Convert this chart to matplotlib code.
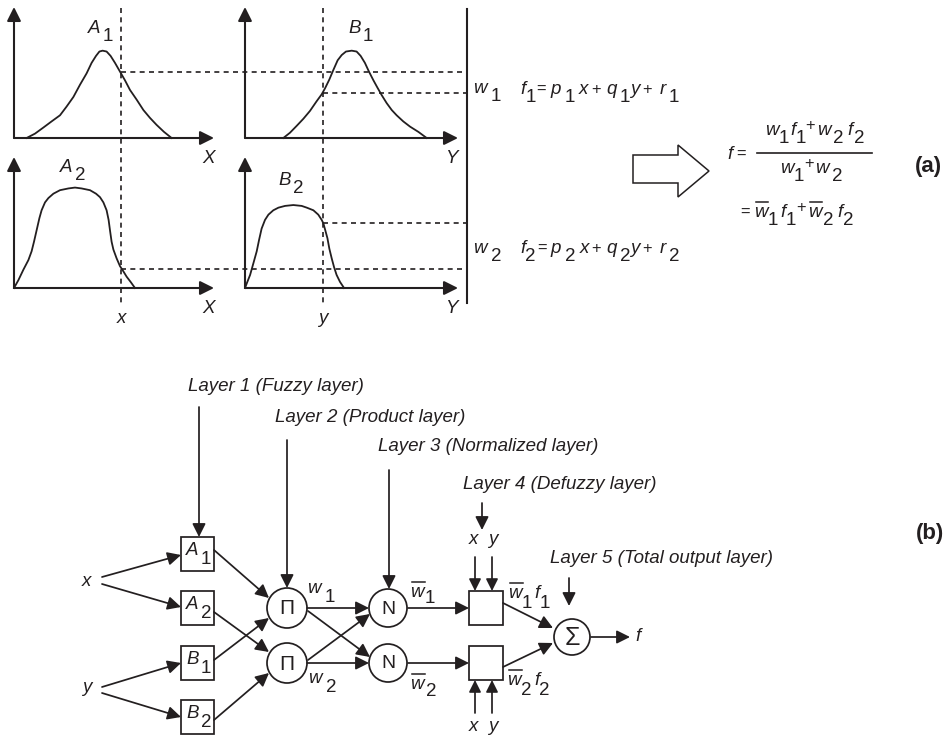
import matplotlib
matplotlib.use("Agg")
import matplotlib.pyplot as plt
from matplotlib.patches import Rectangle, Circle, Polygon, FancyArrowPatch
from matplotlib.transforms import blended_transform_factory as blend

# ---------------- data (membership functions) ----------------
A1_x = [0.63, 1.05, 1.47, 1.88, 2.30, 2.63, 2.97, 3.30, 3.63, 3.88, 4.10, 4.27, 4.43,
        4.63, 4.83, 5.05, 5.30, 5.55, 5.80, 6.13, 6.47, 6.80, 7.13, 7.50, 7.88]
A1_mu = [0.00, 0.05, 0.12, 0.19, 0.26, 0.36, 0.47, 0.61, 0.74, 0.86, 0.94, 0.99, 1.00,
         0.99, 0.94, 0.86, 0.76, 0.66, 0.55, 0.44, 0.32, 0.23, 0.15, 0.07, 0.00]
B1_y = [1.80, 2.11, 2.43, 2.74, 3.05, 3.36, 3.60, 3.76, 3.96, 4.15, 4.35, 4.54, 4.74, 5.01,
        5.24, 5.43, 5.63, 5.82, 6.03, 6.21, 6.42, 6.65, 6.89, 7.12, 7.43, 7.75, 8.14, 8.53]
B1_mu = [0.00, 0.06, 0.14, 0.22, 0.31, 0.42, 0.50, 0.57, 0.67, 0.78, 0.89, 0.95, 0.99, 1.00,
         0.99, 0.94, 0.86, 0.76, 0.66, 0.58, 0.49, 0.40, 0.32, 0.26, 0.19, 0.13, 0.07, 0.00]
A2_x = [0.00, 0.22, 0.47, 0.72, 0.88, 1.00, 1.13, 1.27, 1.38, 1.55, 1.72, 1.97, 2.30, 2.72,
        3.05, 3.38, 3.80, 4.10, 4.30, 4.47, 4.63, 4.73, 4.80, 4.88, 4.97, 5.13, 5.30, 5.47,
        5.63, 5.83, 6.05]
A2_mu = [0.00, 0.09, 0.21, 0.32, 0.42, 0.53, 0.66, 0.80, 0.89, 0.98, 1.03, 1.08, 1.12, 1.14,
         1.15, 1.14, 1.12, 1.08, 1.04, 0.98, 0.89, 0.78, 0.66, 0.53, 0.44, 0.34, 0.25, 0.19,
         0.13, 0.07, 0.00]
B2_y = [0.00, 0.11, 0.24, 0.39, 0.55, 0.66, 0.78, 0.94, 1.10, 1.33, 1.57, 1.88, 2.27, 2.66,
        2.90, 3.21, 3.44, 3.60, 3.68, 3.77, 3.87, 3.96, 4.07, 4.18, 4.30, 4.46, 4.65]
B2_mu = [0.00, 0.07, 0.15, 0.28, 0.42, 0.55, 0.68, 0.78, 0.84, 0.89, 0.92, 0.94, 0.95, 0.94,
         0.92, 0.89, 0.84, 0.78, 0.74, 0.66, 0.57, 0.45, 0.34, 0.24, 0.15, 0.07, 0.00]
x_in, y_in = 5.35, 3.66
mu_A1, mu_B1, mu_A2, mu_B2 = 0.76, 0.52, 0.22, 0.74

layer_labels = ["Layer 1 (Fuzzy layer)", "Layer 2 (Product layer)", "Layer 3 (Normalized layer)",
                "Layer 4 (Defuzzy layer)", "Layer 5 (Total output layer)"]

# ---------------- figure ----------------
W, H = 946, 735
fig = plt.figure(figsize=(W / 100, H / 100), dpi=100)
ax = fig.add_axes([0, 0, 1, 1])
ax.set_xlim(0, W)
ax.set_ylim(H, 0)
ax.axis("off")
K = "#231f20"
FONT = "Liberation Sans"
FS = 13.5
SUB = 8
LW = 1.25

def mini(x0, ytop, w, h):
    a = fig.add_axes([x0 / W, (H - ytop - h) / H, w / W, h / H])
    a.set_xlim(0, 10)
    a.set_ylim(0, 1.5)
    a.axis("off")
    ap = dict(arrowstyle="-|>", color=K, lw=1.5, shrinkA=0, shrinkB=0, mutation_scale=21)
    a.annotate("", xy=(1, 0), xytext=(0, 0), xycoords="axes fraction", arrowprops=ap)
    a.annotate("", xy=(0, 1), xytext=(0, 0), xycoords="axes fraction", arrowprops=ap)
    return a

axA1 = mini(14, 7, 200, 131)
axB1 = mini(245, 7, 213, 131)
axA2 = mini(14, 157, 200, 131)
axB2 = mini(245, 157, 213, 131)
for a, xs, ms in [(axA1, A1_x, A1_mu), (axB1, B1_y, B1_mu), (axA2, A2_x, A2_mu), (axB2, B2_y, B2_mu)]:
    a.plot(xs, ms, color=K, lw=1.3, clip_on=False, solid_joinstyle="round")

def to_px(a, x, y):
    return ax.transData.inverted().transform(a.transData.transform((x, y)))

BAR_X = 467
dash = dict(color=K, lw=1.2, dashes=(3.0, 2.6))
ax.plot([x_in, x_in], [8, 303], transform=blend(axA1.transData, ax.transData), **dash)
ax.plot([y_in, y_in], [8, 303], transform=blend(axB1.transData, ax.transData), **dash)
for a, xv, mv in [(axA1, x_in, mu_A1), (axB1, y_in, mu_B1), (axB2, y_in, mu_B2), (axA2, x_in, mu_A2)]:
    px0 = to_px(a, xv, mv)[0]
    ax.plot([px0, BAR_X], [mv, mv], transform=blend(ax.transData, a.transData), **dash)
ax.plot([BAR_X, BAR_X], [9, 303], color=K, lw=1.5)

# ---------------- rich text helper ----------------
renderer = fig.canvas.get_renderer()

def rich(x, y, pieces, ha="left", fs=FS, sub=SUB):
    items, total = [], 0.0
    for p in pieces:
        if isinstance(p, (int, float)):
            items.append((None, float(p), "g"))
            total += p
            continue
        t, st = p
        kw = dict(fontsize=fs, family=FONT, va="baseline", ha="left", color=K)
        if st in ("i", "w"):
            kw["style"] = "italic"
        if st in ("o", "p"):
            kw["fontsize"] = fs * 0.88
        txt = ax.text(0, 0, t, **kw)
        wd = txt.get_window_extent(renderer).width
        items.append((txt, wd, st))
        total += wd
    cur = x - total / 2 if ha == "center" else x
    for txt, wd, st in items:
        if txt is None:
            cur += wd
            continue
        dy = sub if st == "s" else (-5 if st == "p" else 0)
        txt.set_position((cur, y + dy))
        if st == "w":
            ax.plot([cur + 2, cur + wd + 1], [y - 15, y - 15], color=K, lw=1.1)
        cur += wd

# mini-plot labels
rich(88, 33, [("A", "i"), 2, ("1", "s")])
rich(348, 33, [("B", "i"), 2, ("1", "s")])
rich(60, 172, [("A", "i"), 2, ("2", "s")])
rich(278, 185, [("B", "i"), 2, ("2", "s")])
for xx, yy, t in [(202, 163, "X"), (445, 163, "Y"), (202, 313, "X"), (445, 313, "Y")]:
    rich(xx, yy, [(t, "i")])
rich(to_px(axA1, x_in, 0)[0], 323, [("x", "i")], ha="center")
rich(to_px(axB1, y_in, 0)[0], 323, [("y", "i")], ha="center")

# rule outputs
rich(473, 93, [("w", "i"), 4, ("1", "s")])
rich(473, 253, [("w", "i"), 4, ("2", "s")])
for yb, n in [(94, "1"), (253, "2")]:
    rich(520, yb, [("f", "i"), (n, "s"), 1, ("=", "o"), 4, ("p", "i"), 4, (n, "s"), 4, ("x", "i"), 3,
                   ("+", "o"), 5, ("q", "i"), 3, (n, "s"), ("y", "i"), 3, ("+", "o"), 8, ("r", "i"), 3, (n, "s")])

# hollow arrow
ax.add_patch(Polygon([(633, 155), (678, 155), (678, 145), (709, 171), (678, 197), (678, 183), (633, 183)],
                     closed=True, fill=False, edgecolor=K, lw=1.1))

# final formula
rich(727, 159, [("f", "i"), 4, ("=", "o")])
rich(765, 135, [("w", "i"), ("1", "s"), 1, ("f", "i"), ("1", "s"), ("+", "p"), 2, ("w", "i"), 2, ("2", "s"), 4,
                ("f", "i"), 2, ("2", "s")])
ax.plot([757, 872], [153, 153], color=K, lw=1.2)
rich(780, 173, [("w", "i"), ("1", "s"), ("+", "p"), 2, ("w", "i"), 3, ("2", "s")])
rich(740, 217, [("=", "o"), 4, ("w", "w"), ("1", "s"), 3, ("f", "i"), ("1", "s"), ("+", "p"), 2, ("w", "w"), 2,
                ("2", "s"), 4, ("f", "i"), ("2", "s")])
ax.text(928, 166, "(a)", fontsize=16, family=FONT, weight="bold", ha="center", va="center", color=K)
ax.text(930, 533, "(b)", fontsize=16, family=FONT, weight="bold", ha="center", va="center", color=K)

# ---------------- network (b) ----------------
def arrow(p0, p1, ms=20):
    ax.add_patch(FancyArrowPatch(p0, p1, arrowstyle="-|>", mutation_scale=ms, color=K, lw=LW,
                                 shrinkA=0, shrinkB=0))

box_y = [554, 608, 663, 717]
for yc in box_y:
    ax.add_patch(Rectangle((181, yc - 17), 33, 34, fill=False, edgecolor=K, lw=LW))
for yc, (L, n) in zip(box_y, [("A", "1"), ("A", "2"), ("B", "1"), ("B", "2")]):
    rich(186, yc + 1, [(L, "i"), 2, (n, "s")], sub=9)

rich(82, 586, [("x", "i")])
rich(82, 692, [("y", "i")])
arrow((102, 577), (181, 555))
arrow((102, 584), (181, 607))
arrow((102, 687), (181, 663))
arrow((102, 693), (181, 717))

for yc in (608, 663):
    ax.add_patch(Circle((287, yc), 20, fill=False, edgecolor=K, lw=LW))
    ax.text(287, yc + 1, "\u03a0", fontsize=15, family=FONT, ha="center", va="center", color=K)
    ax.add_patch(Circle((388, yc), 19, fill=False, edgecolor=K, lw=LW))
    ax.text(388, yc + 1, "N", fontsize=14, family=FONT, ha="center", va="center", color=K)
    ax.add_patch(Rectangle((469, yc - 17), 34, 34, fill=False, edgecolor=K, lw=LW))

arrow((214, 550), (269, 598))
arrow((214, 612), (269, 652))
arrow((214, 660), (269, 618))
arrow((214, 720), (269, 673))

arrow((307, 608), (369, 608))
arrow((307, 663), (369, 663))
arrow((308, 611), (370, 657))
arrow((308, 660), (370, 614))
arrow((408, 608), (469, 608))
arrow((408, 663), (469, 663))

rich(307, 593, [("w", "i"), 4, ("1", "s")], sub=9)
rich(308, 683, [("w", "i"), 4, ("2", "s")], sub=9)
rich(410, 597, [("w", "w"), 1, ("1", "s")], sub=6)
rich(410, 689, [("w", "w"), 2, ("2", "s")], sub=7)

ax.add_patch(Circle((572, 637), 18, fill=False, edgecolor=K, lw=LW))
ax.text(572, 638, "\u03a3", fontsize=18, family=FONT, ha="center", va="center", color=K)
arrow((503, 603), (553, 628))
arrow((503, 667), (553, 643))
arrow((591, 637), (630, 637))
rich(635, 641, [("f", "i")])
rich(508, 598, [("w", "w"), ("1", "s"), 2, ("f", "i"), ("1", "s")], sub=10)
rich(507, 685, [("w", "w"), ("2", "s"), 3, ("f", "i"), ("2", "s")], sub=10)

# defuzzy inputs
rich(473, 544, [("x", "i")], ha="center")
rich(493, 544, [("y", "i")], ha="center")
rich(473, 731, [("x", "i")], ha="center")
rich(493, 731, [("y", "i")], ha="center")
for xx in (475, 492):
    arrow((xx, 557), (xx, 591), ms=18)
    arrow((xx, 713), (xx, 680), ms=18)

# layer labels and arrows
lay_pos = [(188, 391), (275, 422), (378, 451), (463, 489), (550, 563)]
lay_arrows = [((199, 407), (199, 537)), ((287, 440), (287, 588)), ((389, 470), (389, 589)),
              ((482, 503), (482, 530)), ((569, 578), (569, 606))]
for (lx, ly), lab, (p0, p1) in zip(lay_pos, layer_labels, lay_arrows):
    ax.text(lx, ly, lab, fontsize=FS, family=FONT, style="italic", va="baseline", ha="left", color=K)
    arrow(p0, p1)

fig.savefig("out.png", dpi=100, facecolor="white")
